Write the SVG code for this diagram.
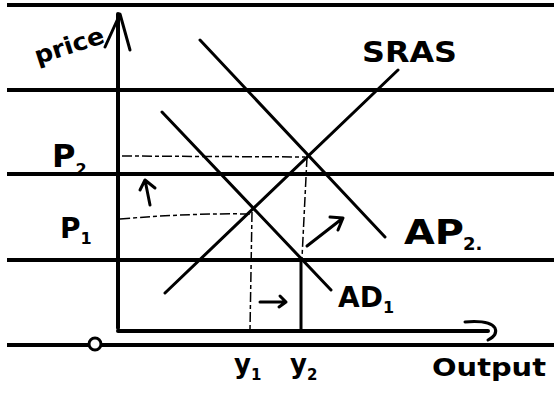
<svg xmlns="http://www.w3.org/2000/svg" width="554" height="394" viewBox="0 0 554 394">
<style>
.rule{stroke:#000;stroke-width:4;fill:none}
.ln{stroke:#000;stroke-width:3;fill:none;stroke-linecap:round;stroke-linejoin:round}
.ax{stroke:#000;stroke-width:4;fill:none;stroke-linecap:round;stroke-linejoin:round}
.dash{stroke:#000;stroke-width:1.5;fill:none;stroke-dasharray:10 3 4 3}
.t{font-family:"DejaVu Sans","Liberation Sans",sans-serif;fill:#000;font-weight:bold}
</style>
<rect width="554" height="394" fill="#fff"/>
<g id="rules">
<line class="rule" x1="7" y1="5" x2="554" y2="5"/>
<line class="rule" x1="7" y1="90" x2="554" y2="90"/>
<line class="rule" x1="7" y1="174" x2="554" y2="174"/>
<line class="rule" x1="7" y1="260" x2="554" y2="260"/>
<line class="rule" x1="7" y1="345" x2="554" y2="345"/>
</g>
<g id="connectors">
<path class="ax" d="M118 328 L118 14"/>
<path class="ln" d="M105 47 L120 14 L130 50"/>
<path class="ax" d="M118 331 L488 331"/>
<path class="ln" d="M465 322 Q490 320 495 328 Q498 335 488 340"/>
<line class="ln" x1="162" y1="112" x2="331" y2="290"/>
<line class="ln" x1="200" y1="40" x2="385" y2="237"/>
<line class="ln" x1="165" y1="293" x2="398" y2="70"/>
<path class="dash" d="M122 156 L305 157"/>
<path class="dash" d="M120 219 Q190 213 250 214"/>
<path class="dash" d="M252 212 L250 330"/>
<path class="dash" d="M307 157 L302 258"/>
<line class="ln" x1="301" y1="260" x2="301" y2="330"/>
<path class="ln" d="M150 205 L145 180 M140 190 L145 180 L155 188"/>
<path class="ln" d="M307 246 L343 218 M330 217 L343 218 L338 230"/>
<path class="ln" d="M260 302 L286 302 M280 296 L286 302 L279 307"/>
<circle cx="95" cy="344" r="6" fill="#fff" stroke="#000" stroke-width="3"/>
</g>
<g id="labels">
<text class="t" x="32" y="54" font-size="24" textLength="72" lengthAdjust="spacingAndGlyphs" transform="rotate(-18 68 42)">price</text>
<text class="t" x="52" y="167" font-size="32">P<tspan font-size="16" dy="8">2</tspan></text>
<text class="t" x="60" y="238" font-size="28">P<tspan font-size="16" dy="6">1</tspan></text>
<text class="t" x="362" y="62" font-size="28" textLength="95" lengthAdjust="spacingAndGlyphs">SRAS</text>
<text class="t" x="404" y="244" font-size="34" textLength="60" lengthAdjust="spacingAndGlyphs">AP</text>
<text class="t" x="463" y="250" font-size="18">2.</text>
<text class="t" x="338" y="307" font-size="28">AD<tspan font-size="16" dy="6">1</tspan></text>
<text class="t" x="234" y="373" font-size="26">y<tspan font-size="15" dy="7">1</tspan></text>
<text class="t" x="290" y="373" font-size="26">y<tspan font-size="15" dy="7">2</tspan></text>
<text class="t" x="432" y="376" font-size="24" textLength="114" lengthAdjust="spacingAndGlyphs">Output</text>
</g>
</svg>
